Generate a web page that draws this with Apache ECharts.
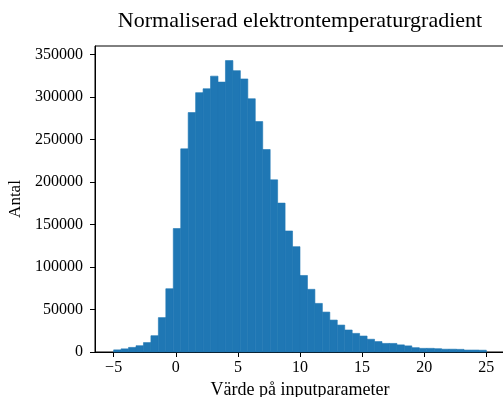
<!DOCTYPE html>
<html>
<head>
<meta charset="utf-8">
<script src="https://cdn.jsdelivr.net/npm/echarts@6/dist/echarts.min.js"></script>
<style>
  html, body { margin: 0; padding: 0; background: #fff; }
  #chart { width: 503px; height: 397px; }
</style>
</head>
<body>
<div id="chart"></div>
<script>
// Histogram bin edges (51 edges -> 50 bins of width 0.6)
const binEdges = [
  -5.0, -4.4, -3.8, -3.2, -2.6, -2.0, -1.4, -0.8, -0.2, 0.4,
  1.0, 1.6, 2.2, 2.8, 3.4, 4.0, 4.6, 5.2, 5.8, 6.4,
  7.0, 7.6, 8.2, 8.8, 9.4, 10.0, 10.6, 11.2, 11.8, 12.4,
  13.0, 13.6, 14.2, 14.8, 15.4, 16.0, 16.6, 17.2, 17.8, 18.4,
  19.0, 19.6, 20.2, 20.8, 21.4, 22.0, 22.6, 23.2, 23.8, 24.4,
  25.0
];

// Count per bin
const binCounts = [
  2500, 3700, 5400, 7400, 11100, 19200, 40500, 74500, 145400, 239200,
  281900, 305400, 310000, 324800, 317800, 343100, 331300, 321500, 298200, 271300,
  238400, 202700, 175300, 142500, 124000, 90100, 73800, 57200, 47000, 37600,
  31700, 25900, 21900, 18800, 15000, 12300, 10100, 10100, 8400, 7200,
  5100, 4300, 4300, 3900, 3300, 3300, 3100, 2300, 2300, 2100
];

// Tick positions
const xTicks = [-5, 0, 5, 10, 15, 20, 25];
const yTicks = [0, 50000, 100000, 150000, 200000, 250000, 300000, 350000];

const titleText = 'Normaliserad elektrontemperaturgradient';
const xLabel = 'Värde på inputparameter';
const yLabel = 'Antal';

const histData = binCounts.map((c, i) => [binEdges[i], binEdges[i + 1], c]);

const serif = '"Liberation Serif", "DejaVu Serif", serif';
const barColor = '#1f77b4';
const chart = echarts.init(document.getElementById('chart'), null, { renderer: 'canvas' });

chart.setOption({
  animation: false,
  backgroundColor: '#ffffff',
  textStyle: { fontFamily: serif },
  title: {
    text: titleText,
    left: 300,
    top: 10,
    padding: 0,
    textAlign: 'center',
    textStyle: { fontFamily: serif, fontSize: 22, fontWeight: 'normal', color: '#000' }
  },
  grid: {
    left: 95, top: 46, width: 410, height: 306,
    outerBoundsMode: 'none',
    containLabel: false,
    show: true, borderColor: '#000', borderWidth: 1, backgroundColor: 'transparent'
  },
  xAxis: {
    type: 'value',
    min: -6.5,
    max: 26.5,
    name: xLabel,
    nameLocation: 'middle',
    nameGap: 23,
    nameTextStyle: { fontFamily: serif, fontSize: 18, color: '#000' },
    axisLine: { show: true, onZero: false, lineStyle: { color: '#000', width: 1 } },
    axisTick: { show: true, length: 5, lineStyle: { color: '#000' }, customValues: xTicks },
    axisLabel: { customValues: xTicks, margin: 8, fontFamily: serif, fontSize: 16, color: '#000',
      formatter: v => (v < 0 ? '\u2212' + Math.abs(v) : String(v)) },
    splitLine: { show: false }
  },
  yAxis: {
    type: 'value',
    min: 0,
    max: 360300,
    name: yLabel,
    nameLocation: 'middle',
    nameGap: 71,
    nameRotate: 90,
    nameTextStyle: { fontFamily: serif, fontSize: 17, color: '#000' },
    axisLine: { show: true, onZero: false, lineStyle: { color: '#000', width: 1 } },
    axisTick: { show: true, length: 5, lineStyle: { color: '#000' }, customValues: yTicks },
    axisLabel: { customValues: yTicks, margin: 12, fontFamily: serif, fontSize: 16, color: '#000',
      formatter: v => String(v) },
    splitLine: { show: false }
  },
  series: [{
    type: 'custom',
    data: histData,
    encode: { x: [0, 1], y: 2 },
    renderItem: function (params, api) {
      const top = api.coord([api.value(0), api.value(2)]);
      const base = api.coord([api.value(1), 0]);
      return {
        type: 'rect',
        shape: { x: top[0], y: top[1], width: base[0] - top[0], height: base[1] - top[1] },
        // thin same-colour stroke closes the antialiasing seams between adjacent bins
        style: { fill: barColor, stroke: barColor, lineWidth: 0.6 }
      };
    }
  }]
});
</script>
</body>
</html>
